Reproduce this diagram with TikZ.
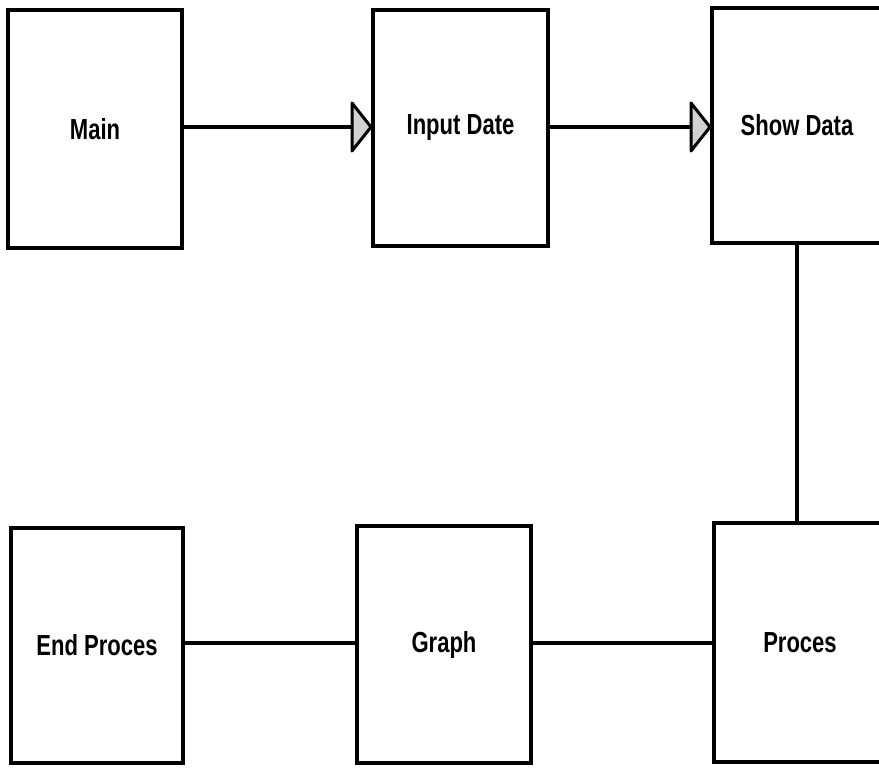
\documentclass[tikz,border=0pt]{standalone}
\usepackage{fontspec}
\setmainfont{Liberation Sans}[FakeStretch=0.76]
\begin{document}
\begin{tikzpicture}[x=1pt,y=-1pt,
  box/.style={draw=black,line width=4pt,fill=white,inner sep=0pt,
    font=\fontsize{29}{34}\selectfont\bfseries},
  conn/.style={draw=black,line width=4pt},
  tiphead/.style={draw=black,fill=gray!35,line width=3pt,line join=round}
]
\clip (0,0) rectangle (879,768);
\fill[white] (0,0) rectangle (879,768);
\node[box,minimum width=174pt,minimum height=238pt] (main) at (95,129) {Main};
\node[box,minimum width=175pt,minimum height=236pt] (input) at (460.5,128) {Input Date};
\node[box,minimum width=170pt,minimum height=235pt] (show) at (797,125.5) {Show Data};
\node[box,minimum width=172pt,minimum height=239pt] (proces) at (800,642.5) {Proces};
\node[box,minimum width=174pt,minimum height=237pt] (graph) at (444,644.5) {Graph};
\node[box,minimum width=172pt,minimum height=235pt] (endp) at (97,645.5) {End Proces};
\coordinate (tipA) at (input.west |- 0,127);
\coordinate (tipB) at (show.west |- 0,127);
\draw[conn] (main.east |- 0,127) -- ([xshift=-18pt]tipA);
\draw[tiphead] (tipA) -- ++(-19,-24) -- ++(0,48) -- cycle;
\draw[conn] (input.east |- 0,127) -- ([xshift=-18pt]tipB);
\draw[tiphead] (tipB) -- ++(-19,-24) -- ++(0,48) -- cycle;
\draw[conn] (show.south) -- (proces.north -| show.south);
\draw[conn] (graph.east |- 0,643) -- (proces.west |- 0,643);
\draw[conn] (endp.east |- 0,643) -- (graph.west |- 0,643);
\end{tikzpicture}
\end{document}
